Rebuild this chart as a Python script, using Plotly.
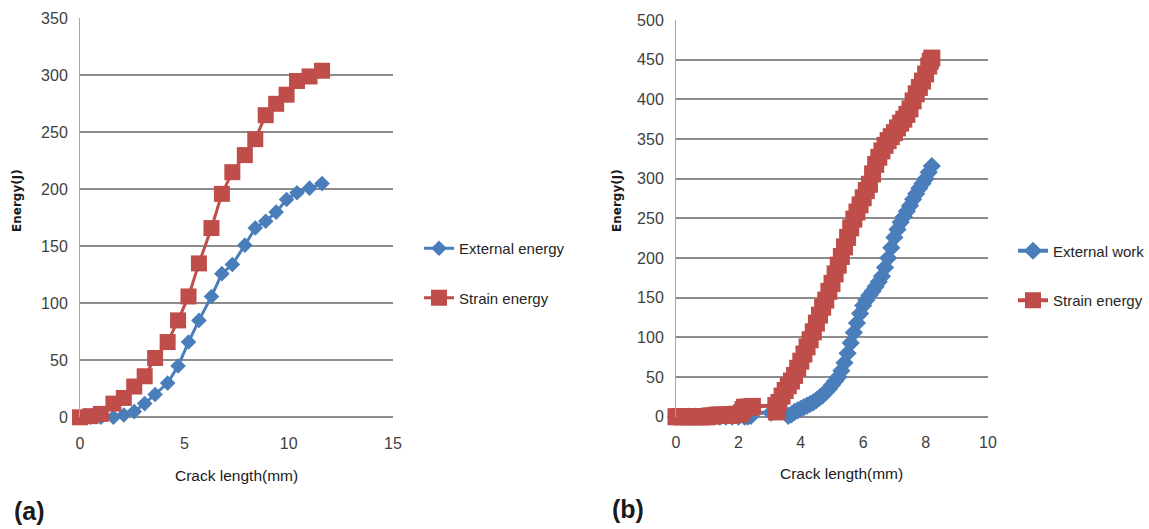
import plotly.graph_objects as go

W, H = 1149, 529
BLUE = "#4A7EBB"
RED = "#BF4D4A"
GRID = "#8C8C8C"

# ---------------- (a) ----------------
a_crack = [0, 0.5, 1.0, 1.6, 2.1, 2.6, 3.1, 3.6, 4.2, 4.7, 5.2, 5.7, 6.3, 6.8,
           7.3, 7.9, 8.4, 8.9, 9.4, 9.9, 10.4, 11.0, 11.6]
a_external = [0, 0, 0, 0, 2, 5, 12, 20, 30, 45, 66, 85, 106, 126,
              134, 151, 166, 172, 180, 191, 197, 201, 205]
a_strain = [0, 1, 3, 12, 17, 27, 36, 52, 66, 85, 106, 135, 166, 196,
            215, 230, 244, 265, 275, 283, 295, 299, 304]

# ---------------- (b) ----------------
b_ext_x = [0.0, 0.2, 0.4, 0.6, 0.8, 1.0, 1.2, 1.4, 1.6, 1.8, 2.0, 2.2, 2.3, 2.4, 2.45,
           3.05, 3.1, 3.15, 3.2, 3.3, 3.4, 3.5, 3.6, 3.7, 3.8, 3.9, 4.0, 4.1, 4.2, 4.3,
           4.4, 4.5, 4.6, 4.7, 4.8, 4.9, 5.0, 5.1, 5.2, 5.3, 5.4, 5.5, 5.6, 5.7, 5.8,
           5.9, 6.0, 6.1, 6.2, 6.3, 6.4, 6.5, 6.6, 6.7, 6.8, 6.9, 7.0, 7.1, 7.2, 7.3,
           7.4, 7.5, 7.6, 7.7, 7.8, 7.9, 8.0, 8.1, 8.2]
b_ext_y = [0, 0, 0, 0, 0, 0, 0, 0, 0, 0, 0, 0, 0, 1, 5,
           5, -2, -3, -3, -3, -3, -2, 1, 3, 6, 8, 10, 12, 14, 16,
           18, 21, 24, 27, 31, 35, 40, 45, 50, 58, 68, 80, 93, 106, 118,
           130, 140, 147, 153, 158, 164, 170, 177, 188, 200, 213, 226, 236, 245, 252,
           259, 266, 274, 281, 288, 294, 300, 308, 316]

b_str_x = [0.0, 0.1, 0.2, 0.3, 0.4, 0.5, 0.6, 0.7, 0.8, 0.9, 1.0, 1.1, 1.2, 1.3, 1.4,
           1.5, 1.6, 1.7, 1.8, 1.9, 2.0, 2.1, 2.15, 2.2, 2.3, 2.4, 2.45,
           3.2, 3.22, 3.25, 3.3, 3.4, 3.5, 3.6, 3.7, 3.8, 3.9, 4.0, 4.1, 4.2, 4.3,
           4.4, 4.5, 4.6, 4.7, 4.8, 4.9, 5.0, 5.1, 5.2, 5.3, 5.4, 5.5, 5.6, 5.7,
           5.8, 5.9, 6.0, 6.1, 6.2, 6.3, 6.4, 6.5, 6.6, 6.7, 6.8, 6.9, 7.0, 7.1,
           7.2, 7.3, 7.4, 7.5, 7.6, 7.7, 7.8, 7.9, 8.0, 8.1, 8.15, 8.2]
b_str_y = [0, 0, 0, 0, 0, 0, 0, 0, 0, 0, 0, 1, 1, 2, 2,
           2, 2, 2, 2, 3, 3, 5, 9, 12, 12, 12, 13,
           14, 6, 10, 18, 26, 33, 39, 45, 52, 61, 70, 79, 88, 97,
           107, 118, 128, 138, 147, 158, 168, 180, 191, 202, 214, 226, 238, 249,
           258, 267, 276, 285, 293, 306, 318, 327, 335, 342, 348, 353, 358, 364,
           370, 375, 381, 388, 398, 407, 415, 423, 432, 442, 448, 452]

a_xticks = [0, 5, 10, 15]
a_yticks = [0, 50, 100, 150, 200, 250, 300, 350]
b_xticks = [0, 2, 4, 6, 8, 10]
b_yticks = [0, 50, 100, 150, 200, 250, 300, 350, 400, 450, 500]

SANS = "Liberation Sans, Arial, sans-serif"
TICKFONT = dict(family=SANS, size=16, color="#404040")
LEGFONT = dict(family=SANS, size=15, color="#262626")


def px(x):
    return x / W


def py(y):
    return 1 - y / H


fig = go.Figure()

fig.add_trace(go.Scatter(x=a_crack, y=a_external, name="External energy", mode="lines+markers",
                         line=dict(color=BLUE, width=3),
                         marker=dict(symbol="diamond", size=12, color=BLUE, line=dict(width=0)),
                         cliponaxis=False, xaxis="x", yaxis="y", legend="legend",
                         legendgroup="a1"))
fig.add_trace(go.Scatter(x=a_crack, y=a_strain, name="Strain energy", mode="lines+markers",
                         line=dict(color=RED, width=3),
                         marker=dict(symbol="square", size=16, color=RED, line=dict(width=0)),
                         cliponaxis=False, xaxis="x", yaxis="y", legend="legend",
                         legendgroup="a2"))
fig.add_trace(go.Scatter(x=b_ext_x, y=b_ext_y, name="External work", mode="lines+markers",
                         line=dict(color=BLUE, width=4),
                         marker=dict(symbol="diamond", size=14, color=BLUE, line=dict(width=0)),
                         cliponaxis=False, xaxis="x2", yaxis="y2", legend="legend2",
                         legendgroup="b1"))
fig.add_trace(go.Scatter(x=b_str_x, y=b_str_y, name="Strain energy", mode="lines+markers",
                         line=dict(color=RED, width=4),
                         marker=dict(symbol="square", size=17, color=RED, line=dict(width=0)),
                         cliponaxis=False, xaxis="x2", yaxis="y2", legend="legend2",
                         legendgroup="b2"))

common_x = dict(showgrid=False, zeroline=False, showline=False, ticks="outside", ticklen=11,
                tickcolor="rgba(0,0,0,0)", tickfont=TICKFONT, fixedrange=True, automargin=False)
common_y = dict(showgrid=True, gridcolor=GRID, gridwidth=1.5, zeroline=True, zerolinecolor=GRID,
                zerolinewidth=1.5, showline=True, linecolor="#A6A6A6", linewidth=1,
                ticks="outside", ticklen=8, tickcolor="rgba(0,0,0,0)", tickfont=TICKFONT,
                fixedrange=True, automargin=False)

legend_common = dict(font=LEGFONT, bgcolor="rgba(0,0,0,0)", traceorder="grouped",
                     tracegroupgap=27, xanchor="left", yanchor="top", itemwidth=30)

fig.update_layout(
    width=W, height=H, margin=dict(l=0, r=0, t=0, b=0, autoexpand=False),
    paper_bgcolor="white", plot_bgcolor="white",
    xaxis=dict(domain=[px(80), px(393)], range=[0, 15], tickvals=a_xticks, anchor="y", **common_x),
    yaxis=dict(domain=[py(417.3), py(18.3)], range=[0, 350], tickvals=a_yticks, anchor="x", **common_y),
    xaxis2=dict(domain=[px(676), px(988)], range=[0, 10], tickvals=b_xticks, anchor="y2", **common_x),
    yaxis2=dict(domain=[py(416.7), py(20)], range=[0, 500], tickvals=b_yticks, anchor="x2", **common_y),
    legend=dict(x=px(419), y=py(232), **legend_common),
    legend2=dict(x=px(1013), y=py(234.5), **legend_common),
    showlegend=True,
)

TITLEFONT = dict(family=SANS, size=15.5, color="#1a1a1a")
YTFONT = dict(family="DejaVu Sans", size=12, color="#1a1a1a")
LABFONT = dict(family=SANS, size=25, color="#1a1a1a")
ann = [
    dict(text="Crack length(mm)", x=px(236.5), y=py(475), font=TITLEFONT),
    dict(text="Crack length(mm)", x=px(841.7), y=py(473), font=TITLEFONT),
    dict(text="<b>Energy(J)</b>", x=px(17), y=py(201), textangle=-90, font=YTFONT),
    dict(text="<b>Energy(J)</b>", x=px(617), y=py(201), textangle=-90, font=YTFONT),
    dict(text="<b>(a)</b>", x=px(29), y=py(511), font=LABFONT),
    dict(text="<b>(b)</b>", x=px(628), y=py(509), font=LABFONT),
]
for a in ann:
    fig.add_annotation(xref="paper", yref="paper", showarrow=False,
                       xanchor="center", yanchor="middle", **a)

fig.write_html("out.html")
